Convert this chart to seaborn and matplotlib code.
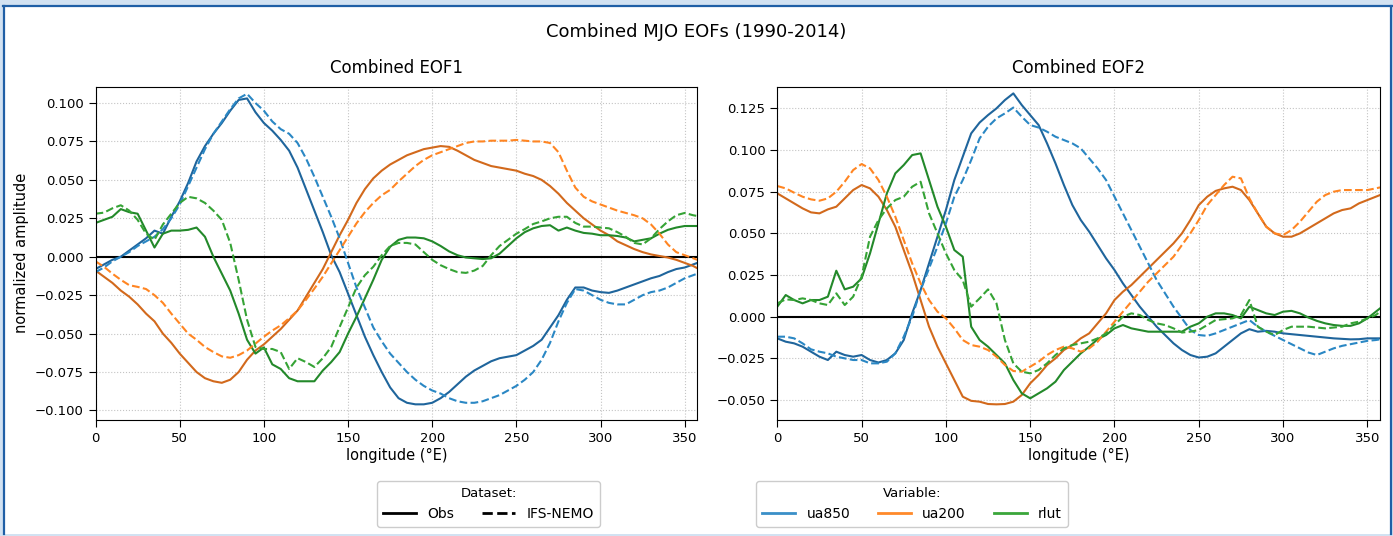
import numpy as np
import pandas as pd
import matplotlib
matplotlib.use("Agg")
import matplotlib.pyplot as plt
import seaborn as sns
from matplotlib.lines import Line2D
from matplotlib.patches import Rectangle

lon = list(range(0, 360, 5)) + [357.5]

eof1_ua850_obs = [-0.008, -0.005, -0.002, 0.000, 0.004, 0.008, 0.012, 0.017, 0.015, 0.026, 0.036, 0.048, 0.062, 0.072, 0.080, 0.087, 0.095, 0.102, 0.103, 0.094, 0.087, 0.082, 0.076, 0.069, 0.058, 0.044, 0.030, 0.016, 0.001, -0.010, -0.024, -0.038, -0.052, -0.064, -0.075, -0.085, -0.092, -0.095, -0.096, -0.096, -0.095, -0.092, -0.088, -0.083, -0.078, -0.074, -0.071, -0.068, -0.066, -0.065, -0.064, -0.061, -0.058, -0.054, -0.046, -0.038, -0.028, -0.020, -0.020, -0.022, -0.023, -0.0235, -0.022, -0.020, -0.018, -0.016, -0.014, -0.0125, -0.010, -0.008, -0.007, -0.005, -0.004]
eof1_ua850_ifs = [-0.010, -0.007, -0.003, 0.000, 0.003, 0.007, 0.010, 0.013, 0.018, 0.025, 0.034, 0.046, 0.058, 0.070, 0.080, 0.088, 0.096, 0.103, 0.106, 0.100, 0.095, 0.088, 0.083, 0.080, 0.074, 0.064, 0.052, 0.039, 0.026, 0.012, -0.004, -0.020, -0.033, -0.046, -0.055, -0.063, -0.069, -0.075, -0.080, -0.084, -0.087, -0.089, -0.092, -0.094, -0.095, -0.095, -0.094, -0.092, -0.090, -0.087, -0.084, -0.080, -0.075, -0.067, -0.056, -0.042, -0.030, -0.021, -0.022, -0.025, -0.028, -0.030, -0.031, -0.031, -0.028, -0.025, -0.023, -0.022, -0.020, -0.017, -0.014, -0.012, -0.011]
eof1_ua200_obs = [-0.009, -0.013, -0.017, -0.022, -0.026, -0.031, -0.037, -0.042, -0.050, -0.056, -0.063, -0.069, -0.075, -0.079, -0.081, -0.082, -0.080, -0.075, -0.067, -0.061, -0.057, -0.052, -0.047, -0.041, -0.035, -0.026, -0.017, -0.008, 0.003, 0.014, 0.024, 0.035, 0.044, 0.051, 0.056, 0.060, 0.063, 0.066, 0.068, 0.070, 0.071, 0.072, 0.0715, 0.069, 0.066, 0.063, 0.061, 0.059, 0.058, 0.057, 0.056, 0.054, 0.0525, 0.050, 0.046, 0.041, 0.035, 0.030, 0.025, 0.021, 0.017, 0.014, 0.010, 0.0075, 0.005, 0.003, 0.0015, 0.0005, -0.0005, -0.002, -0.004, -0.006, -0.0075]
eof1_ua200_ifs = [-0.003, -0.0065, -0.011, -0.015, -0.0185, -0.0196, -0.021, -0.025, -0.030, -0.037, -0.0435, -0.050, -0.054, -0.0587, -0.062, -0.0648, -0.0657, -0.064, -0.061, -0.0565, -0.052, -0.048, -0.0446, -0.040, -0.035, -0.028, -0.0207, -0.013, -0.0043, 0.0043, 0.013, 0.0217, 0.029, 0.035, 0.040, 0.0435, 0.049, 0.054, 0.059, 0.063, 0.066, 0.068, 0.070, 0.072, 0.074, 0.075, 0.075, 0.0755, 0.0755, 0.0755, 0.076, 0.0755, 0.075, 0.075, 0.074, 0.068, 0.056, 0.045, 0.039, 0.036, 0.034, 0.032, 0.030, 0.0285, 0.027, 0.025, 0.021, 0.015, 0.008, 0.003, 0.001, -0.001, -0.002]
eof1_rlut_obs = [0.022, 0.024, 0.026, 0.031, 0.029, 0.028, 0.017, 0.006, 0.015, 0.017, 0.017, 0.0175, 0.019, 0.013, 0.000, -0.011, -0.022, -0.037, -0.054, -0.063, -0.059, -0.070, -0.073, -0.079, -0.081, -0.081, -0.081, -0.074, -0.0685, -0.062, -0.050, -0.039, -0.027, -0.015, -0.002, 0.0065, 0.011, 0.0125, 0.0125, 0.012, 0.010, 0.007, 0.0035, 0.001, -0.0005, -0.001, -0.0015, -0.001, 0.002, 0.007, 0.012, 0.016, 0.0185, 0.020, 0.0205, 0.017, 0.019, 0.017, 0.0155, 0.015, 0.014, 0.014, 0.0135, 0.0125, 0.010, 0.011, 0.012, 0.015, 0.0175, 0.019, 0.020, 0.020, 0.020]
eof1_rlut_ifs = [0.028, 0.0287, 0.0315, 0.0335, 0.030, 0.024, 0.015, 0.011, 0.021, 0.028, 0.035, 0.039, 0.038, 0.035, 0.030, 0.024, 0.009, -0.015, -0.041, -0.0587, -0.060, -0.060, -0.062, -0.073, -0.066, -0.0685, -0.0717, -0.066, -0.0587, -0.0457, -0.033, -0.020, -0.012, -0.0065, 0.001, 0.007, 0.009, 0.009, 0.008, 0.003, -0.002, -0.0055, -0.008, -0.010, -0.0105, -0.009, -0.006, 0.001, 0.007, 0.011, 0.015, 0.018, 0.0213, 0.023, 0.025, 0.026, 0.026, 0.022, 0.0196, 0.0196, 0.019, 0.0185, 0.016, 0.013, 0.009, 0.008, 0.012, 0.018, 0.023, 0.027, 0.0285, 0.027, 0.0265]

eof2_ua850_obs = [-0.013, -0.015, -0.016, -0.018, -0.021, -0.024, -0.026, -0.021, -0.023, -0.024, -0.023, -0.026, -0.0275, -0.026, -0.022, -0.014, 0.002, 0.016, 0.032, 0.048, 0.064, 0.082, 0.096, 0.110, 0.1165, 0.121, 0.125, 0.130, 0.134, 0.127, 0.121, 0.115, 0.104, 0.092, 0.079, 0.067, 0.058, 0.051, 0.043, 0.035, 0.028, 0.020, 0.013, 0.006, 0.000, -0.006, -0.011, -0.016, -0.020, -0.023, -0.0245, -0.024, -0.022, -0.018, -0.014, -0.010, -0.0075, -0.009, -0.0085, -0.009, -0.010, -0.0105, -0.011, -0.0115, -0.012, -0.0125, -0.013, -0.0133, -0.0136, -0.0135, -0.013, -0.013, -0.013]
eof2_ua850_ifs = [-0.012, -0.012, -0.013, -0.016, -0.0196, -0.021, -0.022, -0.024, -0.025, -0.026, -0.026, -0.028, -0.028, -0.027, -0.022, -0.012, 0.000, 0.016, 0.029, 0.042, 0.056, 0.072, 0.082, 0.094, 0.107, 0.114, 0.119, 0.122, 0.1255, 0.120, 0.115, 0.1135, 0.111, 0.108, 0.106, 0.104, 0.101, 0.095, 0.089, 0.082, 0.072, 0.062, 0.052, 0.042, 0.032, 0.022, 0.014, 0.006, -0.001, -0.008, -0.011, -0.0115, -0.010, -0.008, -0.006, -0.004, -0.002, -0.006, -0.009, -0.0115, -0.014, -0.0165, -0.019, -0.0215, -0.023, -0.021, -0.019, -0.0175, -0.0165, -0.0155, -0.0145, -0.014, -0.0136]
eof2_ua200_obs = [0.074, 0.071, 0.068, 0.065, 0.0626, 0.062, 0.0644, 0.066, 0.071, 0.076, 0.079, 0.077, 0.072, 0.064, 0.054, 0.040, 0.026, 0.010, -0.006, -0.018, -0.028, -0.038, -0.048, -0.0505, -0.051, -0.0524, -0.0526, -0.0524, -0.051, -0.047, -0.040, -0.035, -0.029, -0.025, -0.020, -0.017, -0.013, -0.010, -0.004, 0.002, 0.010, 0.015, 0.019, 0.024, 0.029, 0.034, 0.039, 0.044, 0.050, 0.058, 0.067, 0.072, 0.0755, 0.077, 0.078, 0.076, 0.070, 0.062, 0.054, 0.050, 0.048, 0.048, 0.050, 0.053, 0.056, 0.059, 0.062, 0.064, 0.065, 0.068, 0.070, 0.072, 0.073]
eof2_ua200_ifs = [0.0784, 0.077, 0.0744, 0.072, 0.0704, 0.0696, 0.071, 0.075, 0.081, 0.088, 0.0916, 0.089, 0.082, 0.072, 0.060, 0.046, 0.032, 0.020, 0.010, 0.003, -0.001, -0.007, -0.014, -0.017, -0.018, -0.020, -0.024, -0.029, -0.0326, -0.033, -0.030, -0.027, -0.023, -0.020, -0.018, -0.019, -0.021, -0.019, -0.015, -0.009, -0.003, 0.003, 0.009, 0.015, 0.021, 0.026, 0.031, 0.036, 0.043, 0.050, 0.058, 0.067, 0.073, 0.079, 0.084, 0.083, 0.071, 0.062, 0.054, 0.050, 0.049, 0.052, 0.057, 0.063, 0.069, 0.073, 0.075, 0.076, 0.076, 0.076, 0.076, 0.077, 0.0776]
eof2_rlut_obs = [0.006, 0.013, 0.010, 0.008, 0.010, 0.010, 0.012, 0.0276, 0.0164, 0.018, 0.023, 0.038, 0.056, 0.074, 0.086, 0.091, 0.097, 0.098, 0.082, 0.066, 0.054, 0.040, 0.036, -0.006, -0.014, -0.018, -0.023, -0.028, -0.038, -0.046, -0.049, -0.046, -0.043, -0.039, -0.032, -0.027, -0.022, -0.018, -0.0135, -0.011, -0.007, -0.005, -0.007, -0.008, -0.009, -0.009, -0.009, -0.009, -0.009, -0.006, -0.004, 0.000, 0.002, 0.002, 0.001, -0.001, 0.006, 0.004, 0.002, 0.001, 0.003, 0.0035, 0.002, -0.0005, -0.0025, -0.004, -0.005, -0.0055, -0.0055, -0.004, -0.001, 0.003, 0.005]
eof2_rlut_ifs = [0.008, 0.0104, 0.010, 0.011, 0.010, 0.008, 0.007, 0.014, 0.007, 0.012, 0.024, 0.048, 0.058, 0.065, 0.070, 0.072, 0.078, 0.081, 0.062, 0.050, 0.038, 0.028, 0.022, 0.006, 0.011, 0.0164, 0.008, -0.014, -0.028, -0.033, -0.034, -0.032, -0.028, -0.023, -0.019, -0.017, -0.016, -0.015, -0.013, -0.010, -0.005, 0.000, 0.002, 0.001, -0.002, -0.004, -0.005, -0.007, -0.0095, -0.009, -0.008, -0.005, -0.002, -0.0015, -0.001, 0.001, 0.010, -0.006, -0.009, -0.011, -0.008, -0.006, -0.006, -0.006, -0.0065, -0.007, -0.0065, -0.006, -0.004, -0.003, -0.001, 0.001, 0.003]

variables = ["ua850", "ua200", "rlut"]
datasets = ["Obs", "IFS-NEMO"]
panel_titles = ["Combined EOF1", "Combined EOF2"]
suptitle = "Combined MJO EOFs (1990-2014)"
xticks = [0, 50, 100, 150, 200, 250, 300, 350]
yticks_eof1 = [-0.100, -0.075, -0.050, -0.025, 0.000, 0.025, 0.050, 0.075, 0.100]
yticks_eof2 = [-0.050, -0.025, 0.000, 0.025, 0.050, 0.075, 0.100, 0.125]

series = {
    0: {("ua850", "Obs"): eof1_ua850_obs, ("ua850", "IFS-NEMO"): eof1_ua850_ifs,
        ("ua200", "Obs"): eof1_ua200_obs, ("ua200", "IFS-NEMO"): eof1_ua200_ifs,
        ("rlut", "Obs"): eof1_rlut_obs, ("rlut", "IFS-NEMO"): eof1_rlut_ifs},
    1: {("ua850", "Obs"): eof2_ua850_obs, ("ua850", "IFS-NEMO"): eof2_ua850_ifs,
        ("ua200", "Obs"): eof2_ua200_obs, ("ua200", "IFS-NEMO"): eof2_ua200_ifs,
        ("rlut", "Obs"): eof2_rlut_obs, ("rlut", "IFS-NEMO"): eof2_rlut_ifs},
}

rows = []
for p, d in series.items():
    for (var, ds), vals in d.items():
        for x, v in zip(lon, vals):
            rows.append({"panel": p, "lon": x, "value": v, "Variable": var, "Dataset": ds})
df = pd.DataFrame(rows)

pal_ifs = {"ua850": "#2a87c4", "ua200": "#ff8522", "rlut": "#35a335"}
pal_obs = {"ua850": "#1f659c", "ua200": "#d2691c", "rlut": "#23892a"}
pal_leg = {"ua850": "#3a8fc8", "ua200": "#ff8a2a", "rlut": "#3aa63a"}

fig = plt.figure(figsize=(13.93, 5.36), dpi=100)
fig.patch.set_facecolor("white")
# screenshot-like frame
fig.patches.append(Rectangle((0, 0), 1, 1, transform=fig.transFigure, facecolor="#d2e2f2",
                             edgecolor="none", zorder=-20))
fig.patches.append(Rectangle((4.5 / 1393, 2 / 536), (1389.5 - 4.5) / 1393, (529.5 - 2) / 536,
                             transform=fig.transFigure, facecolor="white", edgecolor="none", zorder=-19))
fig.lines.append(Line2D([3.5 / 1393, 3.5 / 1393], [2 / 536, 530 / 536], transform=fig.transFigure,
                        color="#1f5fa6", lw=1.6, zorder=-18))
fig.lines.append(Line2D([1390.8 / 1393, 1390.8 / 1393], [2 / 536, 530 / 536], transform=fig.transFigure,
                        color="#1f5fa6", lw=1.6, zorder=-18))
fig.lines.append(Line2D([2.5 / 1393, 1391.5 / 1393], [529.8 / 536, 529.8 / 536], transform=fig.transFigure,
                        color="#1f5fa6", lw=1.6, zorder=-18))

ax1 = fig.add_axes([0.0686, 0.2164, 0.4320, 0.6218])
ax2 = fig.add_axes([0.5580, 0.2164, 0.4327, 0.6218])
axes = [ax1, ax2]
ylims = [(-0.1062, 0.1106), (-0.0620, 0.1380)]
yticks = [yticks_eof1, yticks_eof2]

for p, ax in enumerate(axes):
    sub = df[df.panel == p]
    ax.grid(True, linestyle=":", color="#c4c4c4", lw=0.8)
    ax.axhline(0, color="black", lw=1.5, zorder=1.8)
    sns.lineplot(data=sub[sub.Dataset == "Obs"], x="lon", y="value", hue="Variable",
                 hue_order=variables, palette=pal_obs, errorbar=None, legend=False,
                 lw=1.5, ax=ax, zorder=2)
    sns.lineplot(data=sub[sub.Dataset == "IFS-NEMO"], x="lon", y="value", hue="Variable",
                 hue_order=variables, palette=pal_ifs, errorbar=None, legend=False,
                 lw=1.5, linestyle="--", ax=ax, zorder=2)
    ax.set_xlim(0, 357.5)
    ax.set_ylim(*ylims[p])
    ax.set_xticks(xticks)
    ax.set_yticks(yticks[p])
    ax.set_yticklabels([("\u2212" if t < 0 else "") + f"{abs(t):.3f}" for t in yticks[p]])
    ax.tick_params(labelsize=9.5, length=5)
    ax.set_xlabel("longitude (\u00b0E)", fontsize=10.5, labelpad=2)
    ax.set_ylabel("normalized amplitude" if p == 0 else "", fontsize=10.5)
    ax.set_title(panel_titles[p], fontsize=12, pad=10)

fig.suptitle(suptitle, fontsize=13, y=0.958)

ds_handles = [Line2D([], [], color="black", lw=2, linestyle="-"),
              Line2D([], [], color="black", lw=2, linestyle="--")]
var_handles = [Line2D([], [], color=pal_leg[v], lw=2) for v in variables]
leg1 = fig.legend(ds_handles, datasets, title="Dataset:", ncol=2, loc="center",
                  bbox_to_anchor=(488.5 / 1393, 1 - 504 / 536), fontsize=10, title_fontsize=9.5,
                  handlelength=2.4, columnspacing=2.0, frameon=True, framealpha=1, edgecolor="#cccccc")
leg2 = fig.legend(var_handles, variables, title="Variable:", ncol=3, loc="center",
                  bbox_to_anchor=(912 / 1393, 1 - 504 / 536), fontsize=10, title_fontsize=9.5,
                  handlelength=2.4, columnspacing=2.0, frameon=True, framealpha=1, edgecolor="#cccccc")

fig.savefig("out.png", dpi=100, facecolor=fig.get_facecolor())
